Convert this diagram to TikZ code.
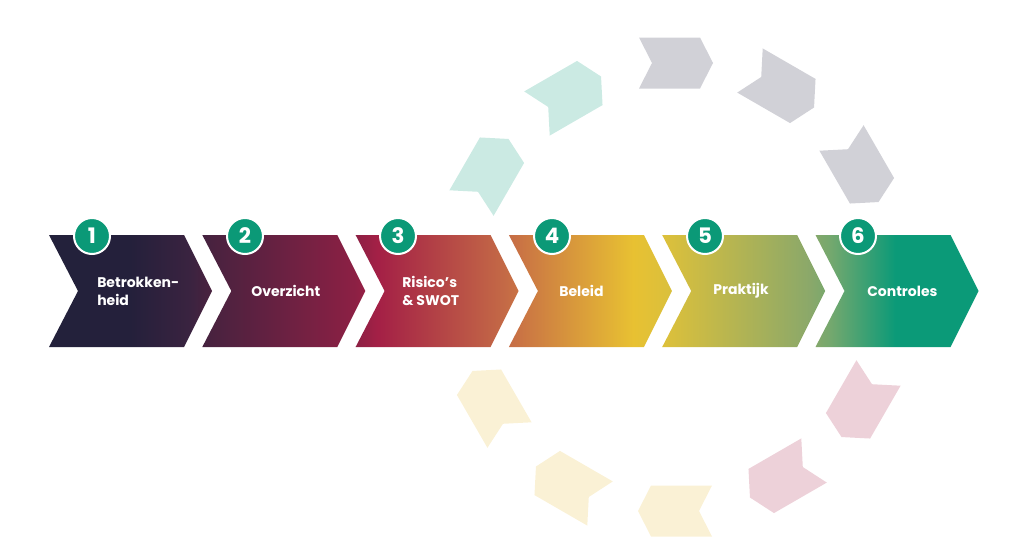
\documentclass[tikz,border=0pt]{standalone}
\usepackage{fontspec}
\setmainfont{Poppins}
\usepackage{tikz}
\usetikzlibrary{positioning}

% colours of the row
\definecolor{rowA}{HTML}{23213B}
\definecolor{rowB}{HTML}{24203B}
\definecolor{rowC}{HTML}{3A2340}
\definecolor{rowD}{HTML}{46223F}
\definecolor{rowE}{HTML}{8C2044}
\definecolor{rowF}{HTML}{A42046}
\definecolor{rowG}{HTML}{C46A46}
\definecolor{rowH}{HTML}{CA7444}
\definecolor{rowI}{HTML}{E8C132}
\definecolor{rowJ}{HTML}{DCC03B}
\definecolor{rowK}{HTML}{8AA86A}
\definecolor{rowL}{HTML}{74A86E}
\definecolor{rowM}{HTML}{0B9A78}
% colours of the circle
\definecolor{numgreen}{HTML}{0B9977}
\definecolor{ringteal}{HTML}{CBEAE3}
\definecolor{ringgray}{HTML}{D1D1D7}
\definecolor{ringpink}{HTML}{EDD1D9}
\definecolor{ringyellow}{HTML}{FAF1D5}

\pgfdeclarehorizontalshading{rowshade}{100bp}{
  color(0bp)=(rowA); color(25bp)=(rowA); color(29.36bp)=(rowB);
  color(32.59bp)=(rowC); color(33.4bp)=(rowD); color(41.47bp)=(rowE);
  color(42.71bp)=(rowF); color(49.54bp)=(rowG); color(50.35bp)=(rowH);
  color(56.43bp)=(rowI); color(58.15bp)=(rowJ); color(65.96bp)=(rowK);
  color(67.03bp)=(rowL); color(70.53bp)=(rowM); color(75bp)=(rowM);
  color(100bp)=(rowM)}

\tikzset{
  numcircle/.style={
    circle,
    draw=white,
    line width=1.5pt,
    fill=numgreen,
    text=white,
    inner sep=0pt,
    minimum size=27pt,
    font=\fontsize{16}{16}\selectfont\bfseries
  },
  steptext/.style={
    anchor=west,
    inner sep=0pt,
    align=left,
    text=white,
    font=\fontsize{10.5}{13.5}\selectfont\bfseries
  }
}

\begin{document}
\begin{tikzpicture}[x=0.75pt, y=-0.75pt]
\useasboundingbox (0,0) rectangle (1024,557);

% --- circle of small arrows ---
\foreach \cx/\cy/\ang/\col in {490/171/60/ringteal, 569/95/30/ringteal,
    676/63/0/ringgray, 782/89/-30/ringgray, 860/170/-60/ringgray,
    860/405/-120/ringpink, 782/479/-150/ringpink,
    675/511/180/ringyellow, 568/485/150/ringyellow, 491/403/120/ringyellow}
  \fill[\col, shift={(\cx,\cy)}, rotate=\ang] (-37,-25.5) -- (24,-25.5) -- (37,0) -- (24,25.5) -- (-37,25.5) -- (-24,0) -- cycle;

% --- row of arrows ---
\shade[shading=rowshade] \foreach \l in {49,202.3,355.6,508.9,662.2,815.5} {
  (\l,235) -- ++(135,0) -- ++(28,56) -- ++(-28,56) -- ++(-135,0) -- ++(29,-56) -- cycle };

% --- numbers ---
\node (num1) [numcircle] at (92,236) {1};
\node (num2) [numcircle] at (245,236) {2};
\node (num3) [numcircle] at (398,236) {3};
\node (num4) [numcircle] at (552,236) {4};
\node (num5) [numcircle] at (705,236) {5};
\node (num6) [numcircle] at (858,236) {6};

% --- texts ---
\node (betrokkenheid) [steptext] at (97,291) {Betrokken-\\heid};
\node (overzicht) [steptext] at (251,291) {Overzicht};
\node (risicos) [steptext] at (402,291) {Risico’s\\\& SWOT};
\node (beleid) [steptext] at (559,291) {Beleid};
\node (praktijk) [steptext] at (713,291) {Praktijk};
\node (controles) [steptext] at (867,291) {Controles};

\end{tikzpicture}
\end{document}
